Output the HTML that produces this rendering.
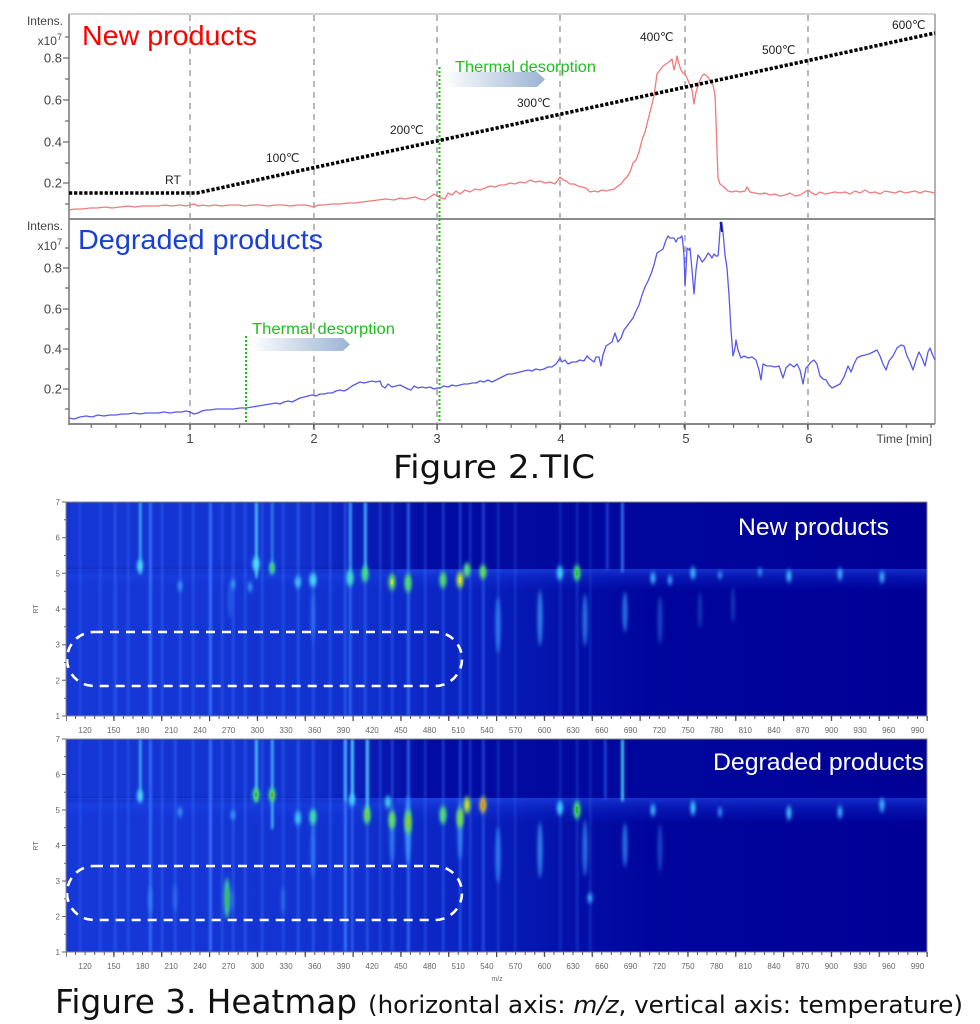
<!DOCTYPE html>
<html>
<head>
<meta charset="utf-8">
<style>
html,body{margin:0;padding:0;background:#fff;}
svg{display:block;}
.lab{font-family:"Liberation Sans","DejaVu Sans",sans-serif;}
.tmp{font-family:"Liberation Sans","DejaVu Sans","Noto Sans CJK JP",sans-serif;font-size:12px;fill:#222;}
.cap{font-family:"DejaVu Sans","Liberation Sans",sans-serif;fill:#111;}
.hx{font-family:"Liberation Sans",sans-serif;font-size:8px;fill:#666;text-anchor:middle;}
.hy{font-family:"Liberation Sans",sans-serif;font-size:8px;fill:#666;text-anchor:end;}
</style>
</head>
<body>
<svg width="980" height="1024" viewBox="0 0 980 1024" xmlns="http://www.w3.org/2000/svg">
<defs>
  <linearGradient id="arr" x1="0" x2="1" y1="0" y2="0">
    <stop offset="0" stop-color="#ffffff"/>
    <stop offset="1" stop-color="#9bb3d3"/>
  </linearGradient>
  <linearGradient id="hmU" x1="66" x2="927" y1="0" y2="0" gradientUnits="userSpaceOnUse">
    <stop offset="0" stop-color="#1636d6"/>
    <stop offset="0.27" stop-color="#1232cf"/>
    <stop offset="0.34" stop-color="#0a1eb8"/>
    <stop offset="0.42" stop-color="#020ca2"/>
    <stop offset="1" stop-color="#000096"/>
  </linearGradient>
  <linearGradient id="hmL" x1="66" x2="927" y1="0" y2="0" gradientUnits="userSpaceOnUse">
    <stop offset="0" stop-color="#1738d8"/>
    <stop offset="0.32" stop-color="#1232d0"/>
    <stop offset="0.47" stop-color="#0a22c0"/>
    <stop offset="0.57" stop-color="#0412aa"/>
    <stop offset="0.68" stop-color="#00059c"/>
    <stop offset="1" stop-color="#000096"/>
  </linearGradient>
  <linearGradient id="band" x1="0" x2="0" y1="0" y2="1">
    <stop offset="0" stop-color="#2a5cff" stop-opacity="0.5"/>
    <stop offset="0.35" stop-color="#1c48f0" stop-opacity="0.3"/>
    <stop offset="1" stop-color="#1030e0" stop-opacity="0"/>
  </linearGradient>
  <filter id="bl" filterUnits="userSpaceOnUse" x="0" y="0" width="980" height="1024">
    <feGaussianBlur stdDeviation="1.1 1.6"/>
  </filter>
  <filter id="bl2" filterUnits="userSpaceOnUse" x="0" y="0" width="980" height="1024">
    <feGaussianBlur stdDeviation="1.6 2.5"/>
  </filter>
  <clipPath id="c1"><rect x="66" y="502" width="861" height="214"/></clipPath>
  <clipPath id="c2"><rect x="66" y="739" width="861" height="213"/></clipPath>
  <pattern id="tk10" x="65.5" y="0" width="9.567" height="10" patternUnits="userSpaceOnUse">
    <rect x="0" y="0" width="1" height="10" fill="#555"/>
  </pattern>
  <pattern id="tk50" x="65.5" y="0" width="47.835" height="10" patternUnits="userSpaceOnUse">
    <rect x="0" y="0" width="1.2" height="10" fill="#444"/>
  </pattern>
  <pattern id="tmin" x="189.5" y="0" width="24.7" height="10" patternUnits="userSpaceOnUse">
    <rect x="0" y="0" width="1.2" height="10" fill="#666"/>
  </pattern>
</defs>

<rect x="0" y="0" width="980" height="1024" fill="#fff"/>

<!-- ============ FIGURE 2 TIC ============ -->
<line x1="69" y1="14" x2="935" y2="14" stroke="#c4c4c4" stroke-width="1.5"/>
<line x1="935" y1="14" x2="935" y2="424" stroke="#9a9a9a" stroke-width="1.5"/>
<line x1="69" y1="219" x2="935" y2="219" stroke="#8a8a8a" stroke-width="2"/>
<line x1="69" y1="14" x2="69" y2="425" stroke="#777" stroke-width="1.5"/>
<line x1="69" y1="424" x2="935" y2="424" stroke="#777" stroke-width="1.8"/>

<g stroke="#a8a8a8" stroke-width="1.6" stroke-dasharray="6,5">
  <line x1="190" y1="15" x2="190" y2="424"/>
  <line x1="314" y1="15" x2="314" y2="424"/>
  <line x1="437" y1="15" x2="437" y2="424"/>
  <line x1="560" y1="15" x2="560" y2="424"/>
  <line x1="685" y1="15" x2="685" y2="424"/>
  <line x1="808" y1="15" x2="808" y2="424"/>
</g>

<g stroke="#666" stroke-width="1.2">
  <line x1="63" y1="58" x2="69" y2="58"/><line x1="65" y1="79" x2="69" y2="79"/>
  <line x1="63" y1="100" x2="69" y2="100"/><line x1="65" y1="121" x2="69" y2="121"/>
  <line x1="63" y1="142" x2="69" y2="142"/><line x1="65" y1="163" x2="69" y2="163"/>
  <line x1="63" y1="183" x2="69" y2="183"/><line x1="65" y1="204" x2="69" y2="204"/>
  <line x1="65" y1="37" x2="69" y2="37"/>
  <line x1="63" y1="268" x2="69" y2="268"/><line x1="65" y1="288" x2="69" y2="288"/>
  <line x1="63" y1="309" x2="69" y2="309"/><line x1="65" y1="329" x2="69" y2="329"/>
  <line x1="63" y1="349" x2="69" y2="349"/><line x1="65" y1="369" x2="69" y2="369"/>
  <line x1="63" y1="389" x2="69" y2="389"/><line x1="65" y1="409" x2="69" y2="409"/>
  <line x1="65" y1="248" x2="69" y2="248"/>
</g>
<g class="lab" font-size="13" fill="#444" text-anchor="end">
  <text x="62" y="62.5">0.8</text><text x="62" y="104.5">0.6</text>
  <text x="62" y="146.5">0.4</text><text x="62" y="187.5">0.2</text>
  <text x="62" y="272.5">0.8</text><text x="62" y="313.5">0.6</text>
  <text x="62" y="353.5">0.4</text><text x="62" y="393.5">0.2</text>
</g>
<g class="lab" font-size="12" fill="#444" text-anchor="end">
  <text x="63" y="25">Intens.</text>
  <text x="62" y="45">x10<tspan font-size="9" dy="-5">7</tspan></text>
  <text x="63" y="230">Intens.</text>
  <text x="62" y="250">x10<tspan font-size="9" dy="-5">7</tspan></text>
</g>

<rect x="70" y="424" width="865" height="4" fill="url(#tmin)"/>
<g stroke="#555" stroke-width="1.3">
  <line x1="190" y1="424" x2="190" y2="430"/><line x1="314" y1="424" x2="314" y2="430"/>
  <line x1="437" y1="424" x2="437" y2="430"/><line x1="560" y1="424" x2="560" y2="430"/>
  <line x1="685" y1="424" x2="685" y2="430"/><line x1="808" y1="424" x2="808" y2="430"/>
</g>
<g class="lab" font-size="13" fill="#444" text-anchor="middle">
  <text x="190" y="443">1</text><text x="314" y="443">2</text><text x="437" y="443">3</text>
  <text x="561" y="443">4</text><text x="686" y="443">5</text><text x="809" y="443">6</text>
</g>
<text class="lab" x="932" y="443" font-size="12" fill="#444" text-anchor="end">Time [min]</text>

<polyline fill="none" stroke="#f07a7a" stroke-width="1.3" stroke-linejoin="round" points="69,210 75,209 82,209 90,208 97,208 105,207 112,208 120,207 128,206 135,207 142,206 150,206 158,206 165,205 172,206 180,205 186,206 190,205 194,204 198,206 203,205 208,206 215,205 222,206 230,205 238,205 245,206 252,205 260,205 268,206 275,205 283,205 290,206 298,205 305,205 310,206 314,207 318,205 325,205 332,204 340,204 348,203 355,203 362,202 370,201 378,200 386,199 394,200 400,198 405,199 410,198 415,197 420,199 425,200 430,197 434,194 437,196 441,198 445,199 448,193 452,195 456,191 460,194 465,190 470,192 475,189 480,190 485,188 490,186 495,187 500,185 505,185 510,183 515,184 520,182 525,183 530,180 535,182 540,181 545,183 550,182 555,184 558,180 560,177 563,180 566,181 570,184 574,184 578,186 582,187 586,188 590,192 594,191 598,192 602,190 606,191 610,190 614,189 618,186 621,184 624,180 627,177 630,172 633,163 636,160 639,152 642,140 645,132 648,120 651,108 654,96 657,74 660,70 663,66 666,64 669,62 672,59 674,70 676,62 677,56 679,64 681,70 683,73 685,74 687,78 690,85 692,90 694,104 696,92 698,86 700,80 702,76 704,74 707,76 710,80 713,85 715,95 716,120 717,150 718,178 720,184 724,187 728,191 732,192 736,191 740,192 745,191 747,187 750,192 755,193 760,194 765,193 770,195 775,194 780,196 785,195 790,193 795,196 800,195 805,192 808,190 812,193 816,195 820,192 825,194 830,193 835,192 840,193 845,192 850,194 855,191 860,193 865,190 870,193 875,192 880,194 885,191 890,192 895,193 900,191 905,193 910,192 915,191 920,193 925,191 930,192 935,193"/>

<polyline fill="none" stroke="#5858ec" stroke-width="1.3" stroke-linejoin="round" points="69,418 74,419 80,417 86,416 92,417 98,415 104,416 110,415 116,415 122,414 128,414 134,413 140,414 146,413 152,413 158,413 164,412 170,413 176,412 182,412 186,411 190,412 194,414 198,413 202,411 206,410 210,410 216,409 222,409 228,409 234,409 240,408 246,408 252,407 258,406 264,405 270,404 276,403 280,404 284,402 288,401 292,402 296,400 300,398 304,397 308,396 312,395 316,396 320,394 324,394 328,393 332,393 336,391 340,390 344,391 348,389 352,386 356,384 360,382 364,383 368,382 372,381 376,382 380,381 382,386 385,388 388,384 392,387 396,386 400,385 404,387 408,389 411,390 414,386 418,388 422,387 426,388 430,387 434,389 437,388 440,388 444,386 448,387 452,385 456,386 460,385 464,384 468,384 472,383 476,383 480,381 484,382 488,380 492,382 496,380 500,378 504,376 508,374 512,374 516,373 520,372 524,371 528,370 532,371 536,369 540,370 544,369 548,367 552,367 556,364 560,358 562,362 565,360 568,364 572,362 576,362 580,360 584,361 587,356 590,359 594,362 596,357 599,357 601,366 603,355 606,346 609,344 612,342 615,333 618,342 621,338 624,330 627,326 630,322 633,318 636,311 639,305 642,295 645,287 648,281 651,274 654,265 657,253 660,251 663,249 666,240 668,236 670,238 672,238 674,238 676,242 678,238 680,238 682,236 683,244 684,255 685,286 686,270 687,248 689,250 690,248 692,270 694,294 696,270 698,255 700,258 702,262 704,260 706,257 708,253 710,255 712,258 714,254 716,256 718,256 719,245 720,230 721,222 722,223 723,232 725,255 727,268 729,295 731,330 733,356 735,348 736,340 738,350 741,358 744,356 748,358 752,357 756,360 759,370 761,380 763,364 767,366 771,366 775,367 779,366 783,378 786,368 790,364 794,367 797,364 800,370 803,384 806,368 808,366 811,362 814,360 817,364 820,376 823,379 826,380 829,385 832,388 836,386 840,384 844,377 848,366 851,372 854,364 857,358 861,356 865,355 869,354 873,352 877,350 880,356 883,364 886,370 889,361 893,356 897,348 901,345 904,346 907,356 910,362 913,370 916,360 919,352 922,358 925,366 928,352 930,348 933,356 935,360"/>
<line x1="720.5" y1="222" x2="722" y2="232" stroke="#1a1a90" stroke-width="2"/>

<polyline fill="none" stroke="#000" stroke-width="3.6" stroke-dasharray="3.2,1.9" points="69,193 197,193 935,33"/>
<g class="tmp">
  <text x="165" y="184">RT</text>
  <text x="266" y="162">100℃</text>
  <text x="390" y="134">200℃</text>
  <text x="517" y="107">300℃</text>
  <text x="640" y="41">400℃</text>
  <text x="762" y="54">500℃</text>
  <text x="892" y="29">600℃</text>
</g>

<polygon points="443,72 537,72 545,79.5 537,87 443,87" fill="url(#arr)"/>
<polygon points="250,338 343,338 350,344.5 343,351 250,351" fill="url(#arr)"/>
<line x1="439.5" y1="67" x2="439.5" y2="424" stroke="#22bb22" stroke-width="2" stroke-dasharray="2,2"/>
<line x1="246" y1="336" x2="246" y2="424" stroke="#22bb22" stroke-width="2" stroke-dasharray="2,2"/>
<text class="lab" x="455" y="72" font-size="16" fill="#1fbf1f" textLength="141" lengthAdjust="spacingAndGlyphs">Thermal desorption</text>
<text class="lab" x="252" y="334" font-size="16" fill="#1fbf1f" textLength="143" lengthAdjust="spacingAndGlyphs">Thermal desorption</text>

<text class="lab" x="82" y="45" font-size="28" fill="#ff0000" textLength="175" lengthAdjust="spacingAndGlyphs">New products</text>
<text class="lab" x="78" y="249" font-size="28" fill="#1a3fd4" textLength="245" lengthAdjust="spacingAndGlyphs">Degraded products</text>

<text class="cap" x="393" y="478" font-size="32" textLength="202" lengthAdjust="spacingAndGlyphs">Figure 2.TIC</text>

<!-- ============ HEATMAP top ============ -->
<g clip-path="url(#c1)">
  <rect x="66" y="502" width="861" height="68" fill="url(#hmU)"/>
  <rect x="66" y="570" width="861" height="146" fill="url(#hmL)"/>
  <rect x="66" y="569" width="861" height="22" fill="url(#band)"/>
  <rect x="66" y="569" width="330" height="4" fill="#06109a" opacity="0.35" filter="url(#bl)"/>
  <g filter="url(#bl)" fill="#3a7aff">
    <rect x="79" y="502" width="2.4" height="214" opacity="0.3"/>
    <rect x="99" y="502" width="2.4" height="214" opacity="0.3"/>
    <rect x="114" y="502" width="2.4" height="214" opacity="0.45"/>
    <rect x="127" y="502" width="2.4" height="214" opacity="0.35"/>
    <rect x="149" y="502" width="2.8" height="214" opacity="0.85"/>
    <rect x="161" y="502" width="2.4" height="214" opacity="0.4"/>
    <rect x="179" y="502" width="2.4" height="214" opacity="0.45"/>
    <rect x="192" y="502" width="2.4" height="214" opacity="0.4"/>
    <rect x="209" y="502" width="2.8" height="214" opacity="0.9"/>
    <rect x="221" y="502" width="2.4" height="214" opacity="0.35"/>
    <rect x="232" y="502" width="2.4" height="214" opacity="0.45"/>
    <rect x="244" y="502" width="2.4" height="214" opacity="0.4"/>
    <rect x="261" y="502" width="2.4" height="214" opacity="0.4"/>
    <rect x="282" y="502" width="2.4" height="214" opacity="0.35"/>
    <rect x="297" y="502" width="2.4" height="214" opacity="0.5"/>
    <rect x="312" y="502" width="2.4" height="214" opacity="0.45"/>
    <rect x="329" y="502" width="2.4" height="214" opacity="0.4"/>
    <rect x="344" y="502" width="2.4" height="214" opacity="0.55"/>
    <rect x="349" y="502" width="2.6" height="214" opacity="0.7"/>
    <rect x="364" y="502" width="2.4" height="214" opacity="0.5"/>
    <rect x="379" y="502" width="2.4" height="214" opacity="0.35"/>
    <rect x="391" y="502" width="2.4" height="214" opacity="0.4"/>
    <rect x="407" y="502" width="2.8" height="214" opacity="0.75"/>
    <rect x="424" y="502" width="2.4" height="214" opacity="0.35"/>
    <rect x="442" y="502" width="2.4" height="214" opacity="0.45"/>
    <rect x="459" y="502" width="2.4" height="214" opacity="0.5"/>
    <rect x="469" y="502" width="2.4" height="214" opacity="0.35"/>
    <rect x="482" y="502" width="2.6" height="214" opacity="0.5"/>
    <rect x="497" y="502" width="2.4" height="214" opacity="0.3"/>
    <rect x="514" y="502" width="2.4" height="214" opacity="0.25"/>
    <rect x="559" y="502" width="2.4" height="214" opacity="0.25"/>
    <rect x="576" y="502" width="2.4" height="214" opacity="0.3"/>
    <rect x="589" y="502" width="2.4" height="214" opacity="0.2"/>
  </g>
  <g filter="url(#bl)">
    <rect x="139" y="502" width="2.6" height="72" fill="#48c4ff" opacity="0.8"/>
    <rect x="255" y="502" width="2.8" height="76" fill="#4fd0ff" opacity="0.9"/>
    <rect x="271" y="502" width="2.4" height="72" fill="#48b8ff" opacity="0.6"/>
    <rect x="349" y="502" width="2.6" height="72" fill="#48b8ff" opacity="0.6"/>
    <rect x="364" y="502" width="2.8" height="72" fill="#50c8ff" opacity="0.75"/>
    <rect x="606" y="502" width="2.6" height="68" fill="#2f6cff" opacity="0.55"/>
    <rect x="621" y="502" width="2.8" height="70" fill="#3c8cff" opacity="0.8"/>
  </g>
  <g filter="url(#bl2)" fill="#3c9cff">
    <ellipse cx="498" cy="625" rx="2.5" ry="28" opacity="0.7"/>
    <ellipse cx="540" cy="618" rx="2.5" ry="28" opacity="0.8"/>
    <ellipse cx="585" cy="620" rx="2.5" ry="26" opacity="0.7"/>
    <ellipse cx="625" cy="612" rx="2.5" ry="20" opacity="0.7"/>
    <ellipse cx="660" cy="620" rx="2.2" ry="24" opacity="0.45"/>
    <ellipse cx="700" cy="610" rx="2" ry="18" opacity="0.35"/>
    <ellipse cx="733" cy="605" rx="2" ry="18" opacity="0.35"/>
    <ellipse cx="313" cy="615" rx="2" ry="25" opacity="0.5"/>
    <ellipse cx="230" cy="600" rx="2" ry="18" opacity="0.4"/>
  </g>
  <g filter="url(#bl2)">
    <ellipse cx="140" cy="566" rx="3" ry="6" fill="#50d8ff"/>
    <ellipse cx="256" cy="564" rx="3.5" ry="7" fill="#50e0ff"/>
    <ellipse cx="272" cy="568" rx="3" ry="6" fill="#40e0b0"/>
    <ellipse cx="298" cy="582" rx="3" ry="6" fill="#40c8ff"/>
    <ellipse cx="313" cy="580" rx="3.5" ry="7" fill="#48d8ff"/>
    <ellipse cx="350" cy="578" rx="3.5" ry="8" fill="#40e0d0"/>
    <ellipse cx="365" cy="574" rx="3.5" ry="8" fill="#40e090"/>
    <ellipse cx="392" cy="582" rx="3.5" ry="8" fill="#60e060"/>
    <ellipse cx="408" cy="583" rx="3.5" ry="9" fill="#50e070"/>
    <ellipse cx="443" cy="580" rx="3.5" ry="8" fill="#50e070"/>
    <ellipse cx="460" cy="580" rx="3.5" ry="8" fill="#a0e040"/>
    <ellipse cx="467" cy="570" rx="3.5" ry="7" fill="#50e080"/>
    <ellipse cx="483" cy="572" rx="3.5" ry="7" fill="#60e060"/>
    <ellipse cx="560" cy="573" rx="3" ry="7" fill="#40d0ff"/>
    <ellipse cx="577" cy="573" rx="3.5" ry="8" fill="#40e070"/>
    <ellipse cx="653" cy="578" rx="2.5" ry="6" fill="#3cb8ff"/>
    <ellipse cx="670" cy="580" rx="2.2" ry="5" fill="#3ca8ff"/>
    <ellipse cx="693" cy="573" rx="2.5" ry="6" fill="#40c0ff"/>
    <ellipse cx="720" cy="575" rx="2" ry="4" fill="#3aa0ff"/>
    <ellipse cx="760" cy="572" rx="2" ry="4" fill="#3aa0ff"/>
    <ellipse cx="789" cy="576" rx="2.5" ry="6" fill="#40c0ff"/>
    <ellipse cx="840" cy="574" rx="2.5" ry="6" fill="#3cb0ff"/>
    <ellipse cx="882" cy="577" rx="2.5" ry="6" fill="#3cb0ff"/>
    <ellipse cx="180" cy="586" rx="2" ry="5" fill="#3ca8ff"/>
    <ellipse cx="233" cy="584" rx="2" ry="5" fill="#3ca8ff"/>
    <ellipse cx="250" cy="587" rx="2" ry="5" fill="#3ca8ff"/>
  </g>
  <g>
    <ellipse cx="392" cy="582" rx="1.3" ry="3" fill="#c8e030"/>
    <ellipse cx="460" cy="580" rx="1.3" ry="3" fill="#e8e020"/>
    <ellipse cx="577" cy="573" rx="1.3" ry="3.5" fill="#30c040"/>
    <ellipse cx="272" cy="568" rx="1.2" ry="2.5" fill="#40d040"/>
  </g>
  <rect x="67" y="632" width="395" height="54" rx="27" ry="27" fill="none" stroke="#fff" stroke-width="2.6" stroke-dasharray="9,7"/>
  <text class="lab" x="738" y="535" font-size="24" fill="#fff" textLength="151" lengthAdjust="spacingAndGlyphs">New products</text>
</g>
<rect x="66" y="502" width="861" height="214" fill="none" stroke="#8a8a8a" stroke-width="1"/>

<!-- ============ HEATMAP bottom ============ -->
<g clip-path="url(#c2)">
  <rect x="66" y="739" width="861" height="59" fill="url(#hmU)"/>
  <rect x="66" y="798" width="861" height="154" fill="url(#hmL)"/>
  <rect x="66" y="798" width="861" height="26" fill="url(#band)"/>
  <rect x="66" y="798" width="330" height="4" fill="#06109a" opacity="0.35" filter="url(#bl)"/>
  <g filter="url(#bl)" fill="#3a7aff">
    <rect x="79" y="739" width="2.4" height="213" opacity="0.3"/>
    <rect x="99" y="739" width="2.4" height="213" opacity="0.3"/>
    <rect x="114" y="739" width="2.4" height="213" opacity="0.4"/>
    <rect x="127" y="739" width="2.4" height="213" opacity="0.35"/>
    <rect x="149" y="739" width="2.8" height="213" opacity="0.8"/>
    <rect x="161" y="739" width="2.4" height="213" opacity="0.4"/>
    <rect x="174" y="739" width="2.4" height="213" opacity="0.45"/>
    <rect x="192" y="739" width="2.4" height="213" opacity="0.4"/>
    <rect x="209" y="739" width="2.8" height="213" opacity="0.9"/>
    <rect x="221" y="739" width="2.4" height="213" opacity="0.4"/>
    <rect x="232" y="739" width="2.4" height="213" opacity="0.45"/>
    <rect x="244" y="739" width="2.4" height="213" opacity="0.45"/>
    <rect x="261" y="739" width="2.4" height="213" opacity="0.4"/>
    <rect x="282" y="739" width="2.4" height="213" opacity="0.35"/>
    <rect x="297" y="739" width="2.4" height="213" opacity="0.5"/>
    <rect x="312" y="739" width="2.4" height="213" opacity="0.5"/>
    <rect x="329" y="739" width="2.4" height="213" opacity="0.4"/>
    <rect x="344" y="739" width="2.8" height="213" opacity="0.95"/>
    <rect x="351" y="739" width="2.4" height="213" opacity="0.6"/>
    <rect x="366" y="739" width="2.4" height="213" opacity="0.5"/>
    <rect x="379" y="739" width="2.4" height="213" opacity="0.35"/>
    <rect x="391" y="739" width="2.4" height="213" opacity="0.45"/>
    <rect x="407" y="739" width="2.8" height="213" opacity="0.75"/>
    <rect x="424" y="739" width="2.4" height="213" opacity="0.35"/>
    <rect x="442" y="739" width="2.4" height="213" opacity="0.45"/>
    <rect x="459" y="739" width="2.4" height="213" opacity="0.55"/>
    <rect x="469" y="739" width="2.4" height="213" opacity="0.35"/>
    <rect x="482" y="739" width="2.6" height="213" opacity="0.5"/>
    <rect x="497" y="739" width="2.4" height="213" opacity="0.3"/>
    <rect x="514" y="739" width="2.4" height="213" opacity="0.25"/>
    <rect x="559" y="739" width="2.4" height="213" opacity="0.25"/>
    <rect x="576" y="739" width="2.4" height="213" opacity="0.3"/>
    <rect x="589" y="739" width="2.4" height="213" opacity="0.25"/>
  </g>
  <g filter="url(#bl)">
    <rect x="139" y="739" width="2.6" height="62" fill="#48c4ff" opacity="0.8"/>
    <rect x="255" y="739" width="2.8" height="62" fill="#4fd0ff" opacity="0.9"/>
    <rect x="271" y="739" width="2.6" height="90" fill="#4fd0ff" opacity="0.8"/>
    <rect x="344" y="739" width="2.6" height="62" fill="#48c4ff" opacity="0.7"/>
    <rect x="351" y="739" width="2.8" height="62" fill="#50d8ff" opacity="0.85"/>
    <rect x="366" y="739" width="2.8" height="80" fill="#50d8ff" opacity="0.85"/>
    <rect x="604" y="739" width="2.6" height="60" fill="#2f6cff" opacity="0.6"/>
    <rect x="621" y="739" width="3" height="62" fill="#40d8f0" opacity="0.9"/>
  </g>
  <g filter="url(#bl2)" fill="#3c9cff">
    <ellipse cx="498" cy="855" rx="2.5" ry="28" opacity="0.7"/>
    <ellipse cx="540" cy="850" rx="2.5" ry="28" opacity="0.8"/>
    <ellipse cx="585" cy="848" rx="2.5" ry="28" opacity="0.7"/>
    <ellipse cx="625" cy="845" rx="2.5" ry="22" opacity="0.7"/>
    <ellipse cx="660" cy="848" rx="2.2" ry="24" opacity="0.45"/>
    <ellipse cx="313" cy="850" rx="2.2" ry="28" opacity="0.55"/>
    <ellipse cx="408" cy="830" rx="2.8" ry="34" opacity="0.85"/>
    <ellipse cx="460" cy="830" rx="2.5" ry="30" opacity="0.7"/>
    <ellipse cx="392" cy="835" rx="2.5" ry="28" opacity="0.6"/>
    <ellipse cx="150" cy="900" rx="2.2" ry="14" opacity="0.5"/>
    <ellipse cx="175" cy="898" rx="2.2" ry="14" opacity="0.4"/>
    <ellipse cx="232" cy="900" rx="2" ry="12" opacity="0.4"/>
    <ellipse cx="283" cy="900" rx="2.2" ry="14" opacity="0.4"/>
  </g>
  <g filter="url(#bl2)">
    <ellipse cx="227" cy="898" rx="3" ry="20" fill="#40c8a0"/>
    <ellipse cx="140" cy="796" rx="3" ry="6" fill="#50d8ff"/>
    <ellipse cx="256" cy="795" rx="3.5" ry="7" fill="#40e080"/>
    <ellipse cx="272" cy="795" rx="3.5" ry="7" fill="#40e080"/>
    <ellipse cx="298" cy="818" rx="3" ry="7" fill="#40c8ff"/>
    <ellipse cx="313" cy="817" rx="3.5" ry="8" fill="#40e0b0"/>
    <ellipse cx="352" cy="800" rx="3" ry="6" fill="#48d0ff"/>
    <ellipse cx="367" cy="815" rx="3.5" ry="9" fill="#50e070"/>
    <ellipse cx="388" cy="802" rx="3" ry="6" fill="#40d0f0"/>
    <ellipse cx="392" cy="820" rx="3.5" ry="9" fill="#60e060"/>
    <ellipse cx="408" cy="822" rx="3.5" ry="12" fill="#60e050"/>
    <ellipse cx="443" cy="815" rx="3.5" ry="9" fill="#50e080"/>
    <ellipse cx="460" cy="818" rx="3.5" ry="10" fill="#70e050"/>
    <ellipse cx="467" cy="805" rx="3.5" ry="8" fill="#a0e040"/>
    <ellipse cx="483" cy="805" rx="3.5" ry="8" fill="#d0c030"/>
    <ellipse cx="560" cy="808" rx="3" ry="7" fill="#40d0ff"/>
    <ellipse cx="577" cy="810" rx="3.5" ry="9" fill="#40e070"/>
    <ellipse cx="590" cy="898" rx="2.5" ry="5" fill="#3cb0ff"/>
    <ellipse cx="653" cy="810" rx="2.5" ry="6" fill="#3cb8ff"/>
    <ellipse cx="693" cy="808" rx="2.5" ry="7" fill="#40c8ff"/>
    <ellipse cx="720" cy="812" rx="2" ry="5" fill="#3aa0ff"/>
    <ellipse cx="789" cy="813" rx="2.5" ry="7" fill="#40c0ff"/>
    <ellipse cx="840" cy="812" rx="2.5" ry="6" fill="#3cb0ff"/>
    <ellipse cx="882" cy="805" rx="2.5" ry="7" fill="#3cb0ff"/>
    <ellipse cx="180" cy="812" rx="2" ry="5" fill="#3ca8ff"/>
    <ellipse cx="233" cy="815" rx="2" ry="5" fill="#3ca8ff"/>
  </g>
  <g>
    <ellipse cx="227" cy="898" rx="1.3" ry="10" fill="#30c050"/>
    <ellipse cx="483" cy="805" rx="1.4" ry="4" fill="#e09020"/>
    <ellipse cx="467" cy="805" rx="1.3" ry="3" fill="#d0d020"/>
    <ellipse cx="408" cy="822" rx="1.3" ry="6" fill="#a0c030"/>
    <ellipse cx="577" cy="810" rx="1.3" ry="4" fill="#30b040"/>
    <ellipse cx="367" cy="815" rx="1.3" ry="3.5" fill="#90c030"/>
    <ellipse cx="256" cy="795" rx="1.2" ry="2.5" fill="#50b020"/>
    <ellipse cx="272" cy="795" rx="1.2" ry="2.5" fill="#80a020"/>
  </g>
  <rect x="67" y="866" width="395" height="54" rx="27" ry="27" fill="none" stroke="#fff" stroke-width="2.6" stroke-dasharray="9,7"/>
  <text class="lab" x="713" y="770" font-size="24" fill="#fff" textLength="211" lengthAdjust="spacingAndGlyphs">Degraded products</text>
</g>
<rect x="66" y="739" width="861" height="213" fill="none" stroke="#8a8a8a" stroke-width="1"/>

<rect x="66" y="716" width="862" height="3" fill="url(#tk10)"/>
<rect x="66" y="716" width="862" height="5" fill="url(#tk50)"/>
<rect x="66" y="952" width="862" height="3" fill="url(#tk10)"/>
<rect x="66" y="952" width="862" height="5" fill="url(#tk50)"/>
<g stroke="#666" stroke-width="1">
  <path d="M62,502H66M64,519.8H66M62,537.7H66M64,555.5H66M62,573.3H66M64,591.2H66M62,609H66M64,626.8H66M62,644.7H66M64,662.5H66M62,680.3H66M64,698.2H66M62,716H66"/>
  <path d="M62,739H66M64,756.75H66M62,774.5H66M64,792.25H66M62,810H66M64,827.75H66M62,845.5H66M64,863.25H66M62,881H66M64,898.75H66M62,916.5H66M64,934.25H66M62,952H66"/>
</g>
<g class="hy">
  <text x="60" y="505">7</text><text x="60" y="540.7">6</text><text x="60" y="576.3">5</text>
  <text x="60" y="612">4</text><text x="60" y="647.7">3</text><text x="60" y="683.3">2</text><text x="60" y="719">1</text>
  <text x="60" y="742">7</text><text x="60" y="777.5">6</text><text x="60" y="813">5</text>
  <text x="60" y="848.5">4</text><text x="60" y="884">3</text><text x="60" y="919.5">2</text><text x="60" y="955">1</text>
</g>
<text x="38" y="609" font-family="Liberation Sans,sans-serif" font-size="7" fill="#666" text-anchor="middle" transform="rotate(-90 38 609)">RT</text>
<text x="38" y="846" font-family="Liberation Sans,sans-serif" font-size="7" fill="#666" text-anchor="middle" transform="rotate(-90 38 846)">RT</text>
<text x="497" y="981" font-family="Liberation Sans,sans-serif" font-size="7" fill="#666" text-anchor="middle">m/z</text>

<g class="hx">
  <text x="85.1" y="733">120</text><text x="113.8" y="733">150</text><text x="142.5" y="733">180</text><text x="171.2" y="733">210</text><text x="199.9" y="733">240</text><text x="228.6" y="733">270</text><text x="257.3" y="733">300</text><text x="286" y="733">330</text><text x="314.7" y="733">360</text><text x="343.4" y="733">390</text><text x="372.1" y="733">420</text><text x="400.8" y="733">450</text><text x="429.5" y="733">480</text><text x="458.2" y="733">510</text><text x="486.9" y="733">540</text><text x="515.6" y="733">570</text><text x="544.4" y="733">600</text><text x="573.1" y="733">630</text><text x="601.8" y="733">660</text><text x="630.5" y="733">690</text><text x="659.2" y="733">720</text><text x="687.9" y="733">750</text><text x="716.6" y="733">780</text><text x="745.3" y="733">810</text><text x="774" y="733">840</text><text x="802.7" y="733">870</text><text x="831.4" y="733">900</text><text x="860.1" y="733">930</text><text x="888.8" y="733">960</text><text x="917.5" y="733">990</text>
</g>
<g class="hx">
  <text x="85.1" y="969">120</text><text x="113.8" y="969">150</text><text x="142.5" y="969">180</text><text x="171.2" y="969">210</text><text x="199.9" y="969">240</text><text x="228.6" y="969">270</text><text x="257.3" y="969">300</text><text x="286" y="969">330</text><text x="314.7" y="969">360</text><text x="343.4" y="969">390</text><text x="372.1" y="969">420</text><text x="400.8" y="969">450</text><text x="429.5" y="969">480</text><text x="458.2" y="969">510</text><text x="486.9" y="969">540</text><text x="515.6" y="969">570</text><text x="544.4" y="969">600</text><text x="573.1" y="969">630</text><text x="601.8" y="969">660</text><text x="630.5" y="969">690</text><text x="659.2" y="969">720</text><text x="687.9" y="969">750</text><text x="716.6" y="969">780</text><text x="745.3" y="969">810</text><text x="774" y="969">840</text><text x="802.7" y="969">870</text><text x="831.4" y="969">900</text><text x="860.1" y="969">930</text><text x="888.8" y="969">960</text><text x="917.5" y="969">990</text>
</g>

<text class="cap" x="55" y="1013" font-size="33" textLength="302" lengthAdjust="spacingAndGlyphs">Figure 3. Heatmap</text>
<text class="cap" x="368" y="1013" font-size="24" textLength="595" lengthAdjust="spacingAndGlyphs">(horizontal axis: <tspan font-style="italic">m/z</tspan>, vertical axis: temperature)</text>
</svg>
</body>
</html>
